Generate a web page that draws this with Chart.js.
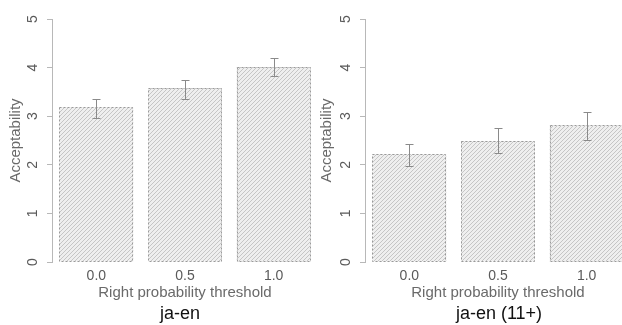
<!DOCTYPE html>
<html>
<head>
<meta charset="utf-8">
<script src="https://cdn.jsdelivr.net/npm/chart.js@4/dist/chart.umd.min.js"></script>
<style>
  html, body { margin: 0; padding: 0; background: #fff; }
  #wrap { position: relative; width: 622px; height: 325px; overflow: hidden; background: #fff; }
  .panel { position: absolute; top: 0; width: 311px; height: 325px; overflow: hidden; }
  .cap { position: absolute; top: 304px; width: 240px; text-align: center;
         font-family: "Liberation Sans", Arial, sans-serif; font-size: 18px; line-height: 18px; color: #111; }
</style>
</head>
<body>
<div id="wrap">
  <div class="panel" style="left:0px"><canvas id="c1" width="340" height="325"></canvas></div>
  <div class="panel" style="left:311px"><canvas id="c2" width="340" height="325"></canvas></div>
  <div class="cap" style="left:60px">ja-en</div>
  <div class="cap" style="left:379px">ja-en (11+)</div>
</div>
<script>
// ---- data ----
const categories = ["0.0", "0.5", "1.0"];
const yTicks = [0, 1, 2, 3, 4, 5];

const jaEnMean  = [3.19, 3.58, 4.01];
const jaEnUpper = [3.35, 3.74, 4.19];
const jaEnLower = [2.96, 3.35, 3.83];

const jaEn11Mean  = [2.22, 2.49, 2.81];
const jaEn11Upper = [2.42, 2.76, 3.08];
const jaEn11Lower = [1.98, 2.25, 2.52];

const xTitle = "Right probability threshold";
const yTitle = "Acceptability";

// ---- styling helpers ----
const FONT = '"Liberation Sans", Arial, sans-serif';

function hatchPattern() {
  const s = 4;
  const c = document.createElement('canvas');
  c.width = s; c.height = s;
  const g = c.getContext('2d');
  g.fillStyle = '#efefef';
  g.fillRect(0, 0, s, s);
  g.strokeStyle = '#c6c6c6';
  g.lineWidth = 1;
  g.beginPath();
  g.moveTo(0, s); g.lineTo(s, 0);
  g.moveTo(-1, 1); g.lineTo(1, -1);
  g.moveTo(s - 1, s + 1); g.lineTo(s + 1, s - 1);
  g.stroke();
  return g.createPattern(c, 'repeat');
}

const barDecor = {
  id: 'barDecor',
  afterDatasetsDraw(chart, args, opts) {
    const ctx = chart.ctx;
    const meta = chart.getDatasetMeta(0);
    const ys = chart.scales.y;
    ctx.save();
    // dashed bar outlines
    ctx.strokeStyle = '#9a9a9a';
    ctx.lineWidth = 1;
    ctx.setLineDash([2, 2]);
    meta.data.forEach(el => {
      const w = el.width;
      const l = Math.round(el.x - w / 2) + 0.5;
      const r = Math.round(el.x + w / 2) - 0.5;
      const t = Math.round(el.y) + 0.5;
      const b = Math.round(el.base) - 0.5;
      ctx.strokeRect(l, t, r - l, b - t);
    });
    // error bars
    ctx.setLineDash([]);
    ctx.strokeStyle = '#8a8a8a';
    meta.data.forEach((el, i) => {
      const x = Math.round(el.x) + 0.5;
      const yu = Math.round(ys.getPixelForValue(opts.upper[i])) + 0.5;
      const yl = Math.round(ys.getPixelForValue(opts.lower[i])) + 0.5;
      ctx.beginPath();
      ctx.moveTo(x, yu); ctx.lineTo(x, yl);
      ctx.moveTo(x - 4, yu); ctx.lineTo(x + 4, yu);
      ctx.moveTo(x - 4, yl); ctx.lineTo(x + 4, yl);
      ctx.stroke();
    });
    ctx.restore();
  }
};

function makeChart(id, mean, upper, lower, areaLeft) {
  const areaRight = areaLeft + 266;
  return new Chart(document.getElementById(id), {
    type: 'bar',
    data: {
      labels: categories,
      datasets: [{
        data: mean,
        backgroundColor: hatchPattern(),
        borderWidth: 0,
        categoryPercentage: 1 / 1.2,
        barPercentage: 1
      }]
    },
    options: {
      responsive: false,
      animation: false,
      devicePixelRatio: 1,
      layout: { padding: { left: 0, right: 340 - areaRight, top: 19, bottom: 0 } },
      plugins: {
        legend: { display: false },
        tooltip: { enabled: false },
        barDecor: { upper: upper, lower: lower }
      },
      scales: {
        x: {
          offset: true,
          grid: { display: false, drawTicks: false },
          border: { display: false },
          ticks: { color: '#5a5a5a', font: { family: FONT, size: 14 }, padding: 6, maxRotation: 0 },
          title: { display: true, text: xTitle, color: '#6a6a6a',
                   font: { family: FONT, size: 15 }, padding: { top: 0, bottom: 23 } },
          afterFit(s) { s.height = 63; }
        },
        y: {
          min: 0, max: 5,
          afterBuildTicks(s) { s.ticks = yTicks.map(v => ({ value: v })); },
          grid: { drawOnChartArea: false, drawTicks: true, tickLength: 5, color: '#b8b8b8' },
          border: { display: true, color: '#b8b8b8' },
          ticks: { color: '#5a5a5a', font: { family: FONT, size: 14 }, padding: 10,
                   minRotation: 90, maxRotation: 90, crossAlign: 'center' },
          title: { display: true, text: yTitle, color: '#6a6a6a',
                   font: { family: FONT, size: 15 }, padding: { top: 7, bottom: 0 } },
          afterFit(s) { s.width = areaLeft; }
        }
      }
    },
    plugins: [barDecor]
  });
}

makeChart('c1', jaEnMean, jaEnUpper, jaEnLower, 52);
makeChart('c2', jaEn11Mean, jaEn11Upper, jaEn11Lower, 54);
</script>
</body>
</html>
